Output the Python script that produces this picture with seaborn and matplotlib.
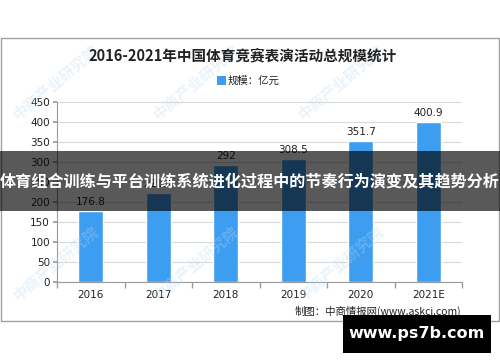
import matplotlib
matplotlib.use('Agg')
import matplotlib.pyplot as plt
import seaborn as sns
import pandas as pd
from matplotlib.patches import Rectangle

# dados do gráfico
anos = ['2016', '2017', '2018', '2019', '2020', '2021E']
escala = [176.8, 221.4, 292, 308.5, 351.7, 400.9]
rotulos = ['176.8', '221.4', '292', '308.5', '351.7', '400.9']

titulo = '2016-2021年中国体育竞赛表演活动总规模统计'
legenda = '规模：亿元'
fonte = '制图：中商情报网(www.askci.com)'
faixa = '体育组合训练与平台训练系统进化过程中的节奏行为演变及其趋势分析'
site = 'www.ps7b.com'

df = pd.DataFrame({'ano': anos, 'escala': escala})

sns.set_theme(style='white')
plt.rcParams['font.family'] = ['Noto Sans CJK SC', 'DejaVu Sans']

azul = '#3d9df0'
fig = plt.figure(figsize=(5, 3.62), dpi=100)
ax = fig.add_axes([0.114, 0.221, 0.81, 0.497])

sns.barplot(data=df, x='ano', y='escala', color=azul, width=0.37, ax=ax, saturation=1)

for i, (v, r) in enumerate(zip(escala, rotulos)):
    ax.text(i, v + 10, r, ha='center', va='bottom', fontsize=7.5, family='DejaVu Sans', color='#222222')

ax.set_ylim(0, 450)
ax.set_xlim(-0.5, 5.5)
ax.set_yticks(range(0, 451, 50))
ax.yaxis.grid(True, color='#d9d9d9', linewidth=0.8)
ax.set_axisbelow(True)
ax.set_xlabel('')
ax.set_ylabel('')
for s in ['top', 'right']:
    ax.spines[s].set_visible(False)
for s in ['left', 'bottom']:
    ax.spines[s].set_color('#999999')
    ax.spines[s].set_linewidth(0.8)
ax.tick_params(axis='y', labelsize=7.5, length=3, color='#999999', pad=2, left=True)
ax.tick_params(axis='x', labelsize=7.5, length=0, pad=6)
ax.set_xticks([x - 0.5 for x in range(7)], minor=True)
ax.tick_params(axis='x', which='minor', length=4, color='#999999', bottom=True)
for t in ax.get_xticklabels() + ax.get_yticklabels():
    t.set_family('DejaVu Sans')
    t.set_color('#222222')

# moldura do gráfico
fig.patches.append(Rectangle((0.001, 0.113), 0.996, 0.782, transform=fig.transFigure,
                             fill=False, edgecolor='#a0a0a0', linewidth=1))

fig.text(0.486, 0.848, titulo, ha='center', va='center', fontsize=10.5, fontweight='bold', color='#222222')

# legenda
fig.patches.append(Rectangle((0.434, 0.766), 0.018, 0.024, transform=fig.transFigure,
                             facecolor=azul, edgecolor='none'))
fig.text(0.456, 0.778, legenda, ha='left', va='center', fontsize=7.5, color='#222222')

fig.text(0.922, 0.14, fonte, ha='right', va='center', fontsize=7.5, color='#222222')

# marcas d'água
for x in [0.02, 0.3, 0.59]:
    for y in [0.66, 0.16]:
        fig.text(x, y, '中商产业研究院', rotation=40, fontsize=11, color='#b8d8f0', alpha=0.3,
                 ha='left', va='bottom', fontweight='bold', zorder=0)

# faixa escura
fig.patches.append(Rectangle((0, 0.417), 1, 0.166, transform=fig.transFigure,
                             facecolor='black', alpha=0.65, edgecolor='none', zorder=5))
fig.text(0.5, 0.5, faixa, ha='center', va='center', fontsize=11.6, fontweight='bold',
         color='white', zorder=6)

# caixa do site
fig.patches.append(Rectangle((0.686, 0.025), 0.296, 0.105, transform=fig.transFigure,
                             facecolor='black', edgecolor='none', zorder=5))
fig.text(0.834, 0.078, site, ha='center', va='center', fontsize=11.5, fontweight='bold',
         color='white', family='DejaVu Sans', zorder=6)

fig.savefig('out.png', dpi=100)
